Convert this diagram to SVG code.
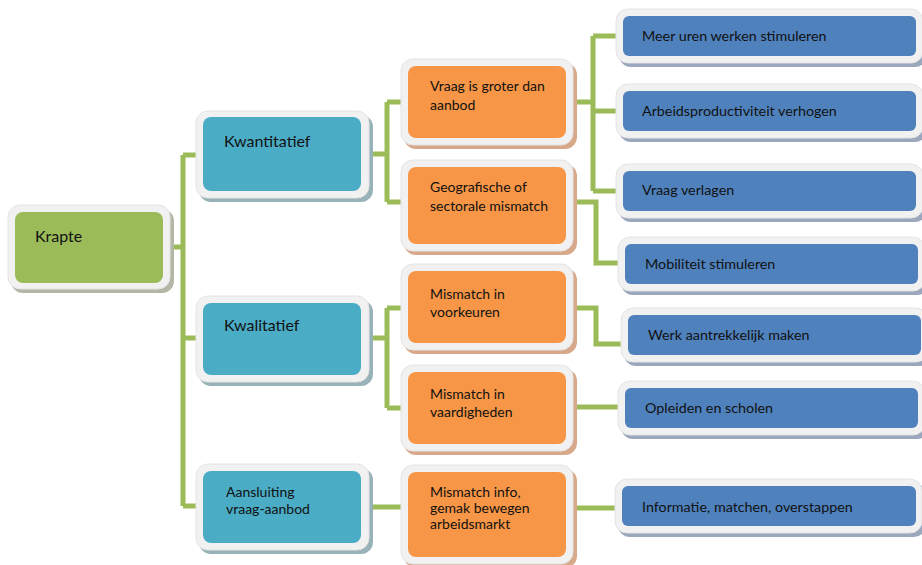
<svg xmlns="http://www.w3.org/2000/svg" width="922" height="565" viewBox="0 0 922 565">
<style>
  .frame { fill: #F1F1F1; stroke: #E4E4E4; stroke-width: 1; }
  .sh-g { fill: #B3B7A6; }
  .sh-t { fill: #98B2BA; }
  .sh-o { fill: #D7A98A; }
  .sh-b { fill: #9AA7BC; }
  .g { fill: #9BBB59; }
  .t { fill: #4BACC6; }
  .o { fill: #F79646; }
  .b { fill: #4F81BD; }
  text { font-family: Lato, "Open Sans", "Liberation Sans", sans-serif; fill: #111111; }
  .l1 { font-size: 16px; }
  .l2 { font-size: 14px; }
  .l3 { font-size: 14px; }
  .l4 { font-size: 14.3px; }
  .conn { fill: none; stroke: #9BBB59; stroke-width: 5; stroke-linejoin: miter; stroke-linecap: butt; }
</style>
<rect width="922" height="565" fill="#FFFFFF"/>

<g id="connectors">
  <path class="conn" d="M170 247 H183 M183 155 V506 M183 155 H197 M183 338 H197 M183 506 H197"/>
  <path class="conn" d="M369 154 H387 M387 102 V202 M387 102 H403 M387 202 H403"/>
  <path class="conn" d="M369 338 H387 M387 308 V408 M387 308 H403 M387 408 H403"/>
  <path class="conn" d="M369 507 H403"/>
  <path class="conn" d="M573 102 H593 M593 36 V191 M593 36 H617 M593 111 H617 M593 191 H617"/>
  <path class="conn" d="M573 202 H596 V263 H620"/>
  <path class="conn" d="M573 308 H596 V344 H622"/>
  <path class="conn" d="M573 407 H620"/>
  <path class="conn" d="M573 508 H617"/>
</g>

<g id="krapte">
  <rect class="sh-g" x="11" y="209" width="163" height="84" rx="12"/>
  <rect class="frame" x="8" y="205" width="162" height="84" rx="12"/>
  <rect class="g" x="15" y="212" width="148" height="71" rx="8"/>
  <text class="l1" x="35" y="242">Krapte</text>
</g>

<g id="kwantitatief">
  <rect class="sh-t" x="199" y="115" width="174" height="87" rx="12"/>
  <rect class="frame" x="196" y="111" width="173" height="87" rx="12"/>
  <rect class="t" x="203" y="117" width="158" height="74" rx="8"/>
  <text class="l1" x="224" y="147">Kwantitatief</text>
</g>

<g id="kwalitatief">
  <rect class="sh-t" x="199" y="300" width="174" height="86" rx="12"/>
  <rect class="frame" x="196" y="296" width="173" height="86" rx="12"/>
  <rect class="t" x="203" y="303" width="158" height="72" rx="8"/>
  <text class="l1" x="224" y="331">Kwalitatief</text>
</g>

<g id="aansluiting">
  <rect class="sh-t" x="199" y="468" width="174" height="86" rx="12"/>
  <rect class="frame" x="196" y="464" width="173" height="86" rx="12"/>
  <rect class="t" x="203" y="471" width="158" height="72" rx="8"/>
  <text class="l2" x="226" y="497">Aansluiting</text>
  <text class="l2" x="226" y="514">vraag-aanbod</text>
</g>

<g id="vraag-groter">
  <rect class="sh-o" x="404" y="63" width="173" height="86" rx="12"/>
  <rect class="frame" x="401" y="59" width="172" height="86" rx="12"/>
  <rect class="o" x="408" y="66" width="158" height="72" rx="8"/>
  <text class="l3" x="430" y="91">Vraag is groter dan</text>
  <text class="l3" x="430" y="110">aanbod</text>
</g>

<g id="geografisch">
  <rect class="sh-o" x="404" y="164" width="173" height="91" rx="12"/>
  <rect class="frame" x="401" y="160" width="172" height="91" rx="12"/>
  <rect class="o" x="408" y="167" width="158" height="77" rx="8"/>
  <text class="l3" x="430" y="192">Geografische of</text>
  <text class="l3" x="430" y="211">sectorale mismatch</text>
</g>

<g id="voorkeuren">
  <rect class="sh-o" x="404" y="268" width="173" height="86" rx="12"/>
  <rect class="frame" x="401" y="264" width="172" height="86" rx="12"/>
  <rect class="o" x="408" y="271" width="158" height="72" rx="8"/>
  <text class="l3" x="430" y="299">Mismatch in</text>
  <text class="l3" x="430" y="317">voorkeuren</text>
</g>

<g id="vaardigheden">
  <rect class="sh-o" x="404" y="369" width="173" height="86" rx="12"/>
  <rect class="frame" x="401" y="365" width="172" height="86" rx="12"/>
  <rect class="o" x="408" y="372" width="158" height="72" rx="8"/>
  <text class="l3" x="430" y="399">Mismatch in</text>
  <text class="l3" x="430" y="417">vaardigheden</text>
</g>

<g id="mismatch-info">
  <rect class="sh-o" x="404" y="469" width="173" height="99" rx="12"/>
  <rect class="frame" x="401" y="465" width="172" height="99" rx="12"/>
  <rect class="o" x="408" y="472" width="158" height="85" rx="8"/>
  <text class="l3" x="430" y="497">Mismatch info,</text>
  <text class="l3" x="430" y="513">gemak bewegen</text>
  <text class="l3" x="430" y="529">arbeidsmarkt</text>
</g>

<g id="meer-uren">
  <rect class="sh-b" x="619" y="13" width="308" height="54" rx="12"/>
  <rect class="frame" x="616" y="9" width="307" height="54" rx="12"/>
  <rect class="b" x="623" y="16" width="293" height="40" rx="6"/>
  <text class="l4" x="642" y="41">Meer uren werken stimuleren</text>
</g>

<g id="arbeidsproductiviteit">
  <rect class="sh-b" x="619" y="88" width="308" height="54" rx="12"/>
  <rect class="frame" x="616" y="84" width="307" height="54" rx="12"/>
  <rect class="b" x="623" y="91" width="293" height="40" rx="6"/>
  <text class="l4" x="642" y="116">Arbeidsproductiviteit verhogen</text>
</g>

<g id="vraag-verlagen">
  <rect class="sh-b" x="619" y="168" width="308" height="54" rx="12"/>
  <rect class="frame" x="616" y="164" width="307" height="54" rx="12"/>
  <rect class="b" x="623" y="171" width="293" height="40" rx="6"/>
  <text class="l4" x="642" y="195">Vraag verlagen</text>
</g>

<g id="mobiliteit">
  <rect class="sh-b" x="621" y="241" width="308" height="54" rx="12"/>
  <rect class="frame" x="618" y="237" width="307" height="54" rx="12"/>
  <rect class="b" x="625" y="244" width="293" height="40" rx="6"/>
  <text class="l4" x="645" y="269">Mobiliteit stimuleren</text>
</g>

<g id="werk-aantrekkelijk">
  <rect class="sh-b" x="624" y="312" width="308" height="54" rx="12"/>
  <rect class="frame" x="621" y="308" width="307" height="54" rx="12"/>
  <rect class="b" x="628" y="315" width="293" height="40" rx="6"/>
  <text class="l4" x="648" y="340">Werk aantrekkelijk maken</text>
</g>

<g id="opleiden">
  <rect class="sh-b" x="621" y="385" width="308" height="54" rx="12"/>
  <rect class="frame" x="618" y="381" width="307" height="54" rx="12"/>
  <rect class="b" x="625" y="388" width="293" height="40" rx="6"/>
  <text class="l4" x="645" y="413">Opleiden en scholen</text>
</g>

<g id="informatie">
  <rect class="sh-b" x="618" y="483" width="308" height="54" rx="12"/>
  <rect class="frame" x="615" y="479" width="307" height="54" rx="12"/>
  <rect class="b" x="622" y="486" width="294" height="40" rx="6"/>
  <text class="l4" x="642" y="512">Informatie, matchen, overstappen</text>
</g>
</svg>
